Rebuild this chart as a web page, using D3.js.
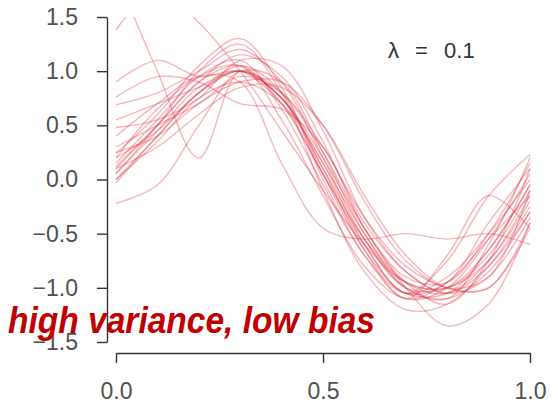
<!DOCTYPE html>
<html>
<head>
<meta charset="utf-8">
<script src="https://cdn.jsdelivr.net/npm/d3@7"></script>
<style>
  body { margin: 0; background: #fff; }
  svg { display: block; }
</style>
</head>
<body>
<div id="chart"></div>
<script>
// x grid shared by every fitted curve
const xGrid = [0, 0.1, 0.2, 0.3, 0.4, 0.5, 0.6, 0.7, 0.8, 0.9, 1.0];

// one array per fitted curve (values at each xGrid point)
const fit01 = [1.38, 1.75, 1.45, 1.0, 0.45, -0.1, -0.6, -0.95, -1.0, -0.7, -0.1];
const fit02 = [1.9, 1.0, 0.2, 1.0, 0.75, 0.1, -0.55, -1.0, -1.0, -0.65, -0.05];
const fit03 = [0.9, 1.1, 0.95, 1.0, 0.7, 0.05, -0.55, -0.95, -1.0, -0.75, -0.2];
const fit04 = [0.76, 0.95, 0.9, 0.7, 0.65, 0.3, -0.4, -0.85, -1.05, -0.8, -0.3];
const fit05 = [0.69, 0.8, 1.0, 1.2, 0.9, 0.2, -0.55, -1.0, -1.1, -0.85, -0.3];
const fit06 = [0.48, 0.55, 0.75, 1.1, 1.05, 0.45, -0.35, -0.85, -1.05, -0.9, -0.35];
const fit07 = [0.24, 0.6, 1.05, 1.3, 0.85, 0.05, -0.65, -1.05, -1.05, -0.65, -0.05];
const fit08 = [0.12, 0.5, 0.9, 1.15, 0.95, 0.35, -0.45, -0.95, -1.15, -0.75, 0.1];
const fit09 = [0.06, 0.45, 0.85, 1.0, 0.75, 0.15, -0.5, -1.0, -1.1, -0.6, 0.2];
const fit10 = [-0.03, 0.4, 0.8, 1.05, 0.8, 0.0, -0.7, -1.1, -1.0, -0.55, 0.05];
const fit11 = [-0.22, -0.05, 0.5, 1.0, 0.9, 0.25, -0.5, -0.95, -1.05, -0.75, -0.15];
const fit12 = [0.15, 0.55, 0.95, 1.1, 0.65, -0.05, -0.7, -1.05, -0.9, -0.5, 0.0];
const fit13 = [0.3, 0.5, 0.7, 0.95, 0.8, 0.3, -0.35, -0.8, -1.0, -1.0, -0.45];
const fit14 = [0.0, 0.35, 0.75, 0.9, 0.7, 0.15, -0.6, -1.05, -0.95, -0.4, 0.1];
const fit15 = [0.2, 0.65, 0.95, 1.05, 0.55, -0.15, -0.8, -1.1, -0.95, -0.55, -0.15];
const fit16 = [0.1, 0.3, 0.6, 0.85, 0.85, 0.5, -0.15, -0.7, -1.0, -1.0, -0.4];
const fit17 = [0.05, 0.5, 1.0, 1.25, 0.8, -0.1, -0.85, -1.2, -1.15, -0.8, -0.25];
const fit18 = [0.4, 0.7, 0.95, 0.9, 0.15, -0.45, -0.55, -0.5, -0.55, -0.5, -0.6];
const fit19 = [0.2, 0.45, 0.8, 1.0, 0.8, 0.25, -0.45, -1.0, -1.35, -1.15, -0.4];
const fit20 = [0.1, 0.5, 0.9, 1.05, 0.7, 0.05, -0.6, -1.05, -0.75, -0.15, 0.23];
const fit21 = [0.55, 0.7, 0.85, 1.0, 0.75, 0.2, -0.45, -0.9, -0.95, -0.5, 0.15];
const fit22 = [0.25, 0.4, 0.7, 0.9, 0.9, 0.5, -0.2, -0.75, -1.0, -0.9, -0.1];
const fit23 = [0.0, 0.4, 0.8, 1.0, 0.75, 0.1, -0.65, -1.1, -0.7, -0.15, -0.45];

const fits = [fit01, fit02, fit03, fit04, fit05, fit06, fit07, fit08, fit09, fit10, fit11, fit12,
              fit13, fit14, fit15, fit16, fit17, fit18, fit19, fit20, fit21, fit22, fit23];

const xTicks = [0, 0.5, 1];
const yTicks = [-1.5, -1.0, -0.5, 0.0, 0.5, 1.0, 1.5];
const lambdaLabel = "λ = 0.1";
const noteLabel = "high variance, low bias";

const width = 552, height = 412;
const x = d3.scaleLinear().domain([0, 1]).range([116, 530]);
const y = d3.scaleLinear().domain([-1.5, 1.5]).range([342, 17]);

const svg = d3.select("#chart").append("svg")
  .attr("width", width)
  .attr("height", height);

svg.append("defs").append("clipPath")
  .attr("id", "plot-clip")
  .append("rect")
  .attr("x", x(0) - 2)
  .attr("y", y(1.5))
  .attr("width", x(1) - x(0) + 4)
  .attr("height", y(-1.5) - y(1.5));

// fitted curves
const line = d3.line()
  .x((d, i) => x(xGrid[i]))
  .y(d => y(d))
  .curve(d3.curveCatmullRom.alpha(0.5));

svg.append("g")
  .attr("clip-path", "url(#plot-clip)")
  .selectAll("path")
  .data(fits)
  .join("path")
  .attr("d", line)
  .attr("fill", "none")
  .attr("stroke", "#e03040")
  .attr("stroke-opacity", 0.35)
  .attr("stroke-width", 1.4);

// axes
const fmt = d3.format(".1f");
const axisFont = "'Liberation Sans', Arial, sans-serif";

const yAxis = svg.append("g")
  .attr("transform", "translate(107,0)")
  .call(d3.axisLeft(y).tickValues(yTicks).tickFormat(fmt).tickSize(10).tickSizeOuter(0).tickPadding(19));

const xAxis = svg.append("g")
  .attr("transform", "translate(0,353)")
  .call(d3.axisBottom(x).tickValues(xTicks).tickFormat(fmt).tickSize(10).tickSizeOuter(0).tickPadding(20));

[yAxis, xAxis].forEach(a => {
  a.select(".domain").attr("stroke", "#333").attr("stroke-width", 1.4);
  a.selectAll(".tick line").attr("stroke", "#333").attr("stroke-width", 1.4);
  a.selectAll(".tick text")
    .attr("fill", "#505050")
    .style("font-family", axisFont)
    .style("font-size", "23px");
});

// annotations
svg.append("text")
  .attr("x", 388)
  .attr("y", 58)
  .attr("fill", "#333")
  .style("font-family", axisFont)
  .style("font-size", "22px")
  .style("word-spacing", "10px")
  .text(lambdaLabel);

svg.append("text")
  .attr("x", 8)
  .attr("y", 333)
  .attr("textLength", 367)
  .attr("lengthAdjust", "spacingAndGlyphs")
  .attr("fill", "#c00000")
  .style("font-family", axisFont)
  .style("font-weight", "bold")
  .style("font-style", "italic")
  .style("font-size", "36px")
  .text(noteLabel);
</script>
</body>
</html>
